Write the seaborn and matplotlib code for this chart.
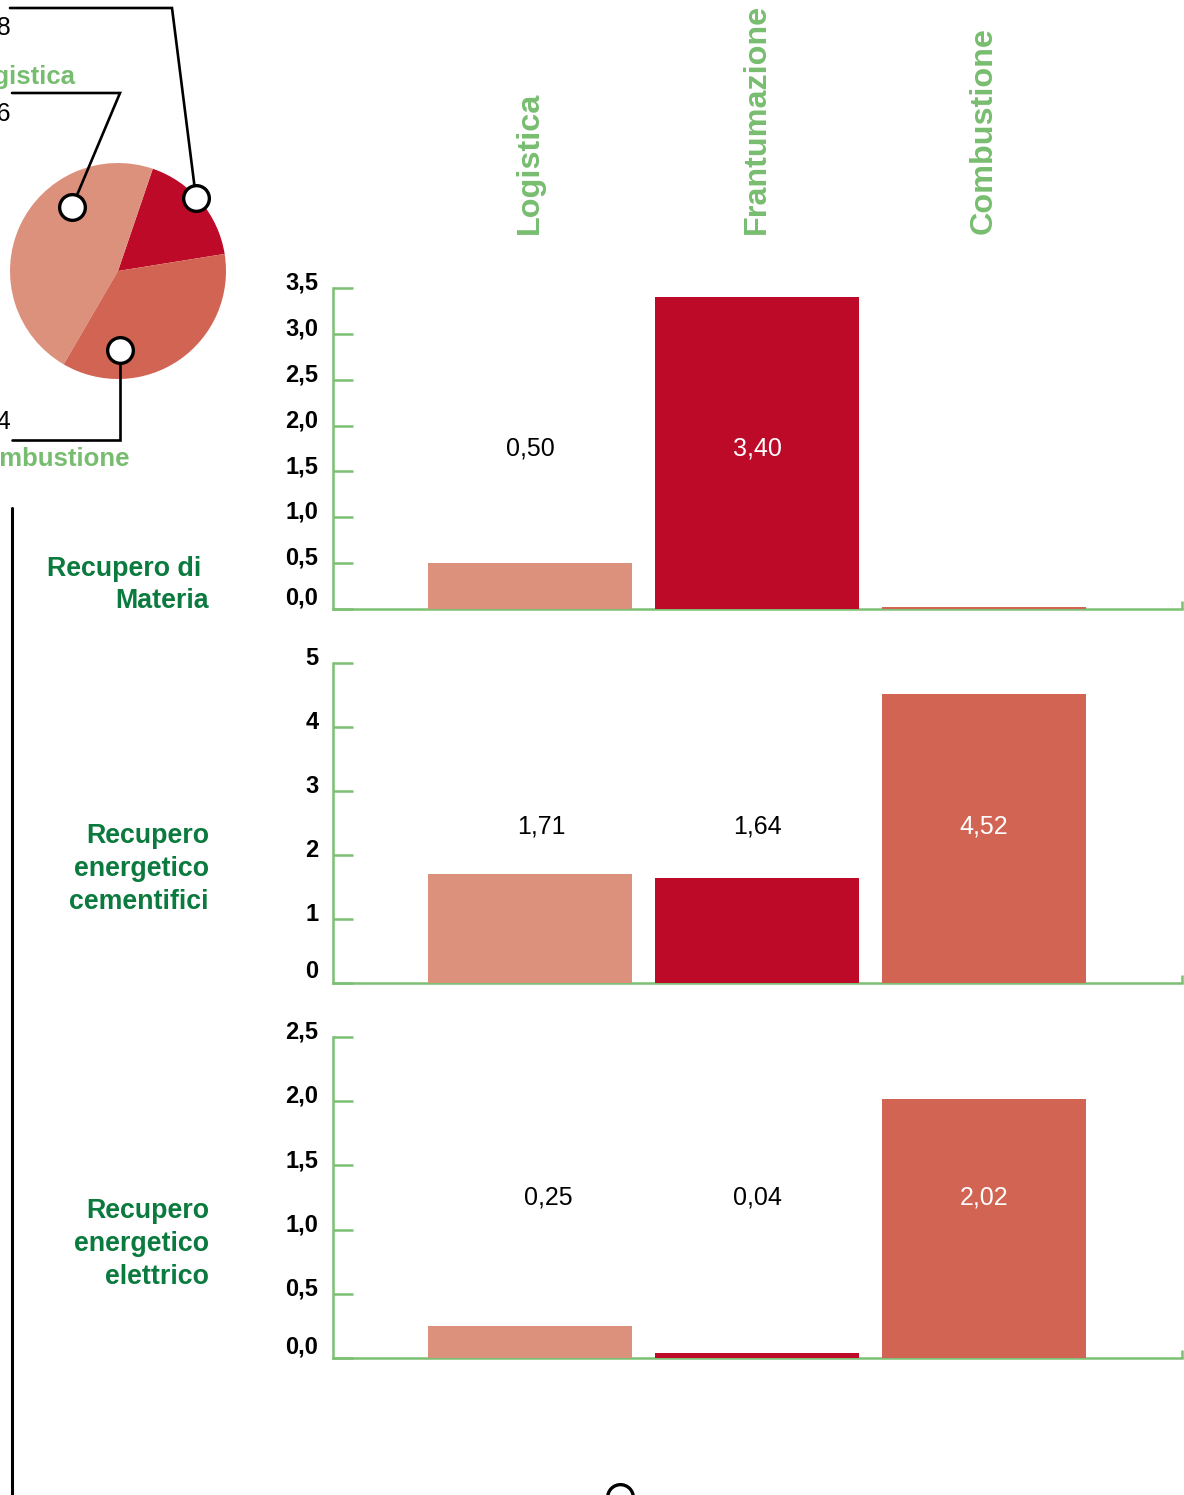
import matplotlib
matplotlib.use("Agg")
import matplotlib.pyplot as plt
import seaborn as sns
import pandas as pd

# --- data -------------------------------------------------------------------
phases = ["Logistica", "Frantumazione", "Combustione"]
scenarios = ["Recupero di \nMateria",
             "Recupero\nenergetico\ncementifici",
             "Recupero\nenergetico\nelettrico"]
materia = [0.50, 3.40, 0.02]
cementifici = [1.71, 1.64, 4.52]
elettrico = [0.25, 0.04, 2.02]
shown_labels = [["0,50", "3,40", None],
                ["1,71", "1,64", "4,52"],
                ["0,25", "0,04", "2,02"]]
y_ticks = [[0, 0.5, 1.0, 1.5, 2.0, 2.5, 3.0, 3.5],
           [0, 1, 2, 3, 4, 5],
           [0, 0.5, 1.0, 1.5, 2.0, 2.5]]
y_ticklabels = [["0,0", "0,5", "1,0", "1,5", "2,0", "2,5", "3,0", "3,5"],
                ["0", "1", "2", "3", "4", "5"],
                ["0,0", "0,5", "1,0", "1,5", "2,0", "2,5"]]

# pie: share of each phase (Frantumazione, Logistica, Combustione)
pie_phases = ["Frantumazione", "Logistica", "Combustione"]
pie_values = [0.98, 2.66, 2.04]

# --- style ------------------------------------------------------------------
SALMON = "#dc917d"
CRIMSON = "#bd0a28"
CORAL = "#d16452"
AXIS_GREEN = "#7cc073"
LABEL_GREEN = "#77bd6f"
DARK_GREEN = "#0b7a3e"
palette = dict(zip(phases, [SALMON, CRIMSON, CORAL]))

sns.set_theme(style="white")
plt.rcParams["font.family"] = ["Liberation Sans", "DejaVu Sans"]

W, H = 1184, 1495
fig = plt.figure(figsize=(W / 100, H / 100), dpi=100)


def fig_box(left, top, right, bottom):
    """Pixel box -> figure-fraction rectangle."""
    return [left / W, 1 - bottom / H, (right - left) / W, (bottom - top) / H]


panel_boxes = [(333, 288, 1182, 609), (333, 663, 1182, 983), (333, 1037, 1182, 1358)]
label_offsets = [[0, 0, 0], [0.05, 0, 0], [0.08, 0, 0]]
label_heights = [0.5, 0.49, 0.5]
series = [materia, cementifici, elettrico]
row_label_y = [585, 869, 1244]

for i, (box, vals) in enumerate(zip(panel_boxes, series)):
    ax = fig.add_axes(fig_box(*box))
    df = pd.DataFrame({"fase": phases, "valore": vals})
    sns.barplot(data=df, x="fase", y="valore", hue="fase", palette=palette,
                order=phases, hue_order=phases, width=0.9, saturation=1,
                legend=False, ax=ax, zorder=3, linewidth=0)
    ax.set_xlim(-0.868, 2.872)
    ax.set_ylim(0, y_ticks[i][-1])
    ax.set_xlabel("")
    ax.set_ylabel("")
    ax.set_xticks([])
    ax.set_yticks(y_ticks[i])
    ax.set_yticklabels([])
    ax.tick_params(axis="y", direction="in", length=14.4, width=1.8,
                   color=AXIS_GREEN, left=True)
    # tick labels sit slightly above their ticks
    for t, lbl in zip(y_ticks[i], y_ticklabels[i]):
        dy = 8.0 if t == 0 else 3.5
        ax.annotate(lbl, xy=(0, t), xycoords=("axes fraction", "data"),
                    xytext=(-10.5, dy), textcoords="offset points",
                    ha="right", va="center", fontsize=17, fontweight="bold",
                    color="black", annotation_clip=False)
    for side in ("top", "right"):
        ax.spines[side].set_visible(False)
    for side in ("left", "bottom"):
        ax.spines[side].set_color(AXIS_GREEN)
        ax.spines[side].set_linewidth(1.8)
    # small closing tick at the right end of the baseline
    ax.plot([1, 1], [0, 8 / (box[3] - box[1])], transform=ax.transAxes,
            color=AXIS_GREEN, lw=1.8, clip_on=False, solid_capstyle="butt")
    ax.set_facecolor("none")

    # value labels at mid height of the panel
    ymid = label_heights[i] * y_ticks[i][-1]
    for j, (v, txt) in enumerate(zip(vals, shown_labels[i])):
        if txt is None:
            continue
        col = "white" if v > ymid else "black"
        ax.text(j + label_offsets[i][j], ymid, txt, ha="center", va="center",
                fontsize=18, color=col, zorder=5)

    # phase names above the first panel
    if i == 0:
        for j, name in enumerate(phases):
            ax.text(j, (609 - 234) / 321, name, rotation=90, ha="center",
                    va="bottom", fontsize=23.3, fontweight="bold",
                    color=LABEL_GREEN, transform=ax.get_xaxis_transform(),
                    clip_on=False)

    fig.text(209 / W, 1 - row_label_y[i] / H, scenarios[i], ha="right",
             va="center", multialignment="right", fontsize=19.3,
             fontweight="bold", color=DARK_GREEN, linespacing=1.34)

# --- pie ----------------------------------------------------------------------
pax = fig.add_axes(fig_box(10, 163, 226, 379))
pax.pie(pie_values, colors=[CRIMSON, SALMON, CORAL], startangle=9.1,
        counterclock=True, radius=1, wedgeprops=dict(linewidth=0))
pax.set_aspect("equal")
pax.set_xlim(-1, 1)
pax.set_ylim(-1, 1)
pax.axis("off")

# overlay in pixel coordinates for leader lines and callouts
ov = fig.add_axes([0, 0, 1, 1], zorder=10)
ov.set_xlim(0, W)
ov.set_ylim(H, 0)
ov.axis("off")
ov.patch.set_alpha(0)

leaders = {
    "Frantumazione": [(10, 8), (172, 8), (196, 198)],
    "Logistica": [(12, 93), (120, 93), (72, 207)],
    "Combustione": [(12, 440), (120, 440), (120, 350)],
}
for name, pts in leaders.items():
    xs, ys = zip(*pts)
    ov.plot(xs, ys, color="black", lw=1.9, solid_joinstyle="miter")
    ov.plot(xs[-1], ys[-1], marker="o", ms=18.5, mfc="white", mec="black",
            mew=2.4)


def fmt(v):
    return f"{v:.2f}".replace(".", ",")


vals_by_phase = dict(zip(pie_phases, pie_values))
ov.text(11, 28, fmt(vals_by_phase["Frantumazione"]), ha="right", va="center",
        fontsize=18, color="black")
ov.text(75, 77, "Logistica", ha="right", va="center", fontsize=18.5,
        fontweight="bold", color=LABEL_GREEN)
ov.text(11, 114, fmt(vals_by_phase["Logistica"]), ha="right", va="center",
        fontsize=18, color="black")
ov.text(11, 422, fmt(vals_by_phase["Combustione"]), ha="right", va="center",
        fontsize=18, color="black")
ov.text(129, 459, "Combustione", ha="right", va="center", fontsize=18.5,
        fontweight="bold", color=LABEL_GREEN)

# timeline bar on the left and the next callout at the bottom edge
ov.plot([12, 12], [508, H + 5], color="black", lw=2.2, clip_on=False)
ov.plot(620, 1497, marker="o", ms=18.5, mfc="white", mec="black", mew=2.4,
        clip_on=False)

fig.savefig("out.png", dpi=100, facecolor="white")
